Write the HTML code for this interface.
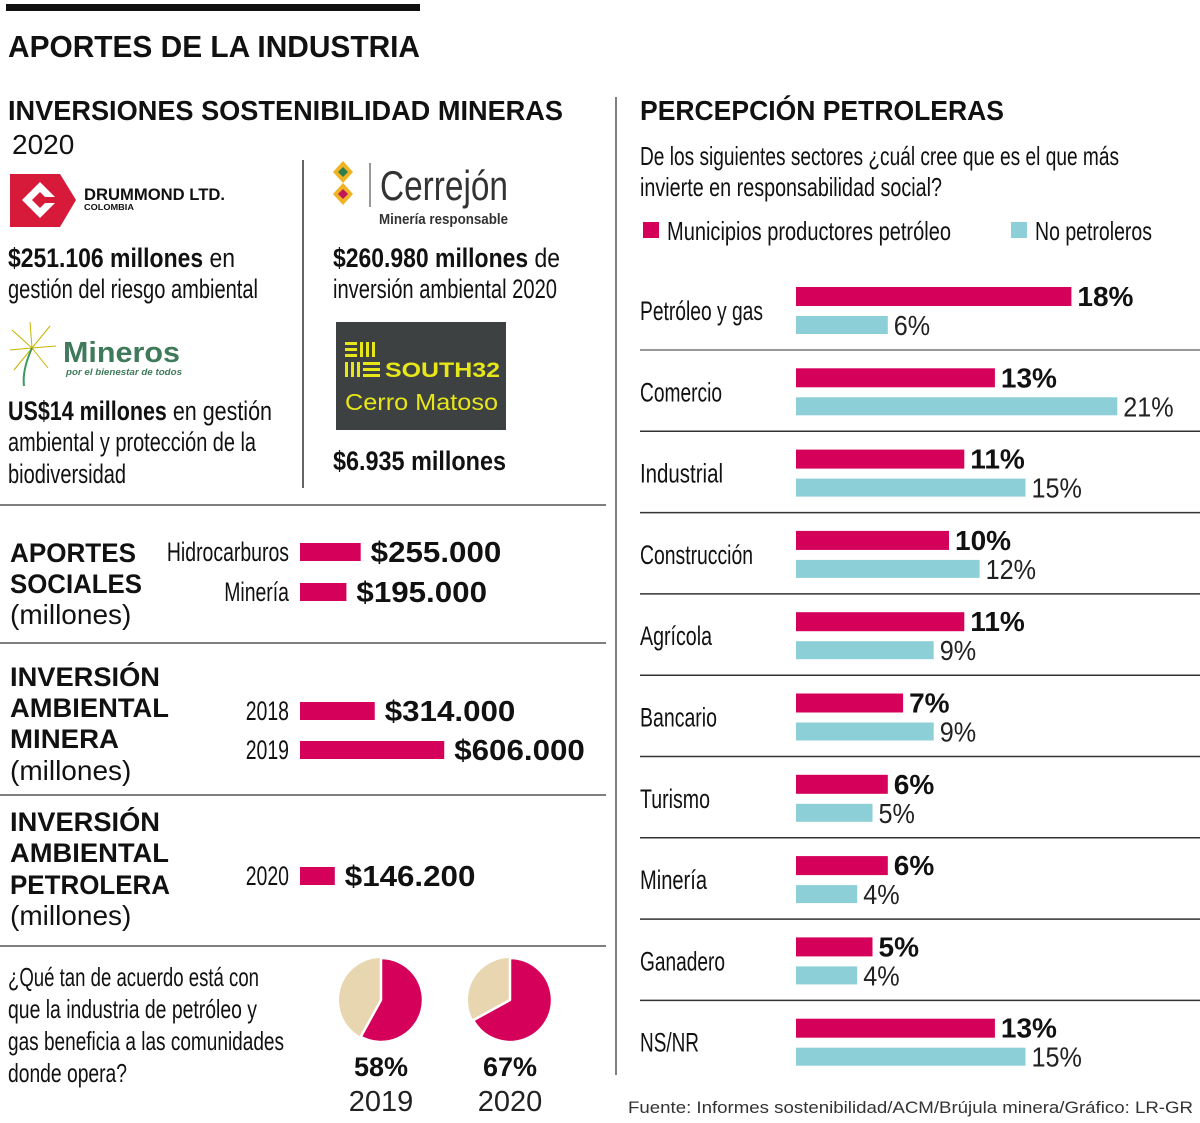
<!DOCTYPE html>
<html><head><meta charset="utf-8"><style>
html,body{margin:0;padding:0;background:#fff;}
svg{display:block;}
.c{font-family:"Liberation Sans Narrow","Liberation Sans",sans-serif;fill:#111;}
.b{font-family:"Liberation Sans",sans-serif;font-weight:bold;fill:#111;}
</style></head><body>
<svg id="pg" width="1200" height="1123" viewBox="0 0 1200 1123" xmlns="http://www.w3.org/2000/svg">
<rect x="6" y="4" width="414" height="7" fill="#111"/>
<text class="b" x="8" y="57" font-size="31" textLength="412" lengthAdjust="spacingAndGlyphs">APORTES DE LA INDUSTRIA</text>
<text class="b" x="8" y="120" font-size="28" textLength="555" lengthAdjust="spacingAndGlyphs">INVERSIONES SOSTENIBILIDAD MINERAS</text>
<text font-family="Liberation Sans,sans-serif" fill="#111" x="12" y="154" font-size="28">2020</text>
<line x1="303" y1="160" x2="303" y2="488" stroke="#333" stroke-width="1.5"/>
<line x1="616" y1="97" x2="616" y2="1075" stroke="#555" stroke-width="1.5"/>

<g>
<path d="M10 174 H60 L76 200 L60 227 H10 Z" fill="#d7193a"/>
<path d="M40 182 L58 200 L40 218 L22 200 Z" fill="#fff"/>
<path d="M40 192 L48 200 L40 208 L32 200 Z" fill="#d7193a"/>
<rect x="44" y="197" width="16" height="6" fill="#d7193a"/>
<text class="b" x="84" y="200" font-size="17" textLength="141" lengthAdjust="spacingAndGlyphs" fill="#3a3a3a">DRUMMOND LTD.</text>
<text class="b" x="84" y="210" font-size="8" fill="#3a3a3a" textLength="50" lengthAdjust="spacingAndGlyphs">COLOMBIA</text>
</g>
<text class="c" x="8" y="267" font-size="27" textLength="227" lengthAdjust="spacingAndGlyphs"><tspan font-weight="bold">$251.106 millones</tspan> en</text>
<text class="c" x="8" y="298" font-size="27" textLength="250" lengthAdjust="spacingAndGlyphs">gestión del riesgo ambiental</text>

<g>
<g stroke="#c8b400" stroke-width="1">
<line x1="32" y1="348" x2="12" y2="330"/><line x1="32" y1="348" x2="30" y2="322"/><line x1="32" y1="348" x2="50" y2="326"/><line x1="32" y1="348" x2="10" y2="350"/><line x1="32" y1="348" x2="56" y2="346"/><line x1="32" y1="348" x2="14" y2="370"/><line x1="32" y1="348" x2="48" y2="368"/>
</g>
<path d="M32 348 Q22 370 24 386" stroke="#3c9a5c" stroke-width="2" fill="none"/>
<text x="63" y="362" font-family="Liberation Sans,sans-serif" font-weight="bold" font-size="29" fill="#3f7a5a" textLength="117" lengthAdjust="spacingAndGlyphs">Mineros</text>
<text x="66" y="375" font-family="Liberation Sans,sans-serif" font-style="italic" font-weight="bold" font-size="9" fill="#3f7a5a" textLength="116" lengthAdjust="spacingAndGlyphs">por el bienestar de todos</text>
</g>
<text class="c" x="8" y="420" font-size="27" textLength="264" lengthAdjust="spacingAndGlyphs"><tspan font-weight="bold">US$14 millones</tspan> en gestión</text>
<text class="c" x="8" y="451" font-size="27" textLength="248" lengthAdjust="spacingAndGlyphs">ambiental y protección de la</text>
<text class="c" x="8" y="483" font-size="27" textLength="118" lengthAdjust="spacingAndGlyphs">biodiversidad</text>

<g>
<path d="M343 161 L353 172 L343 183 L333 172 Z" fill="#f0b323"/><path d="M343 167 L348 172 L343 177 L338 172 Z" fill="#2e7d4a"/>
<path d="M343 183 L353 194 L343 205 L333 194 Z" fill="#f0b323"/><path d="M343 189 L348 194 L343 199 L338 194 Z" fill="#c2185b"/>
<line x1="370" y1="163" x2="370" y2="207" stroke="#333"/>
<text x="380" y="200" font-family="Liberation Sans,sans-serif" font-size="42" fill="#333" textLength="128" lengthAdjust="spacingAndGlyphs">Cerrejón</text>
<text x="379" y="224" font-family="Liberation Sans,sans-serif" font-weight="bold" font-size="15" fill="#333" textLength="129" lengthAdjust="spacingAndGlyphs">Minería responsable</text>
</g>
<text class="c" x="333" y="267" font-size="27" textLength="227" lengthAdjust="spacingAndGlyphs"><tspan font-weight="bold">$260.980 millones</tspan> de</text>
<text class="c" x="333" y="298" font-size="27" textLength="224" lengthAdjust="spacingAndGlyphs">inversión ambiental 2020</text>
<g>
<rect x="336" y="322" width="170" height="108" fill="#3d4142"/>
<g fill="#e6e619"><rect x="345" y="342" width="12" height="3"/><rect x="345" y="348" width="12" height="3"/><rect x="345" y="354" width="12" height="3"/><rect x="360" y="342" width="3" height="15"/><rect x="366" y="342" width="3" height="15"/><rect x="372" y="342" width="3" height="15"/><rect x="345" y="362" width="3" height="15"/><rect x="351" y="362" width="3" height="15"/><rect x="357" y="362" width="3" height="15"/><rect x="363" y="362" width="17" height="3"/><rect x="363" y="368" width="17" height="3"/><rect x="363" y="374" width="17" height="3"/></g>
<text x="385" y="377" font-family="Liberation Sans,sans-serif" font-weight="bold" font-size="21" fill="#e6e619" textLength="115" lengthAdjust="spacingAndGlyphs">SOUTH32</text>
<text x="345" y="410" font-family="Liberation Sans,sans-serif" font-size="23" fill="#e6e619" textLength="153" lengthAdjust="spacingAndGlyphs">Cerro Matoso</text>
</g>
<text class="c" x="333" y="470" font-size="27" font-weight="bold" textLength="173" lengthAdjust="spacingAndGlyphs">$6.935 millones</text>

<g stroke="#555" stroke-width="1.5">
<line x1="0" y1="505" x2="606" y2="505"/><line x1="0" y1="643" x2="606" y2="643"/><line x1="0" y1="795" x2="606" y2="795"/><line x1="0" y1="946" x2="606" y2="946"/>
</g>

<text class="b" font-size="27"><tspan x="10" y="562" textLength="126" lengthAdjust="spacingAndGlyphs">APORTES</tspan><tspan x="10" y="593" textLength="132" lengthAdjust="spacingAndGlyphs">SOCIALES</tspan></text>
<text font-family="Liberation Sans,sans-serif" fill="#111" x="10" y="624" font-size="28">(millones)</text>
<text class="b" font-size="27"><tspan x="10" y="686" textLength="150" lengthAdjust="spacingAndGlyphs">INVERSIÓN</tspan><tspan x="10" y="717" textLength="159" lengthAdjust="spacingAndGlyphs">AMBIENTAL</tspan><tspan x="10" y="748" textLength="109" lengthAdjust="spacingAndGlyphs">MINERA</tspan></text>
<text font-family="Liberation Sans,sans-serif" fill="#111" x="10" y="780" font-size="28">(millones)</text>
<text class="b" font-size="27"><tspan x="10" y="831" textLength="150" lengthAdjust="spacingAndGlyphs">INVERSIÓN</tspan><tspan x="10" y="862" textLength="159" lengthAdjust="spacingAndGlyphs">AMBIENTAL</tspan><tspan x="10" y="894" textLength="160" lengthAdjust="spacingAndGlyphs">PETROLERA</tspan></text>
<text font-family="Liberation Sans,sans-serif" fill="#111" x="10" y="925" font-size="28">(millones)</text>
<g id="leftbars"></g>

<text class="c" font-size="26">
<tspan x="8" y="986" textLength="251" lengthAdjust="spacingAndGlyphs">¿Qué tan de acuerdo está con</tspan>
<tspan x="8" y="1018" textLength="249" lengthAdjust="spacingAndGlyphs">que la industria de petróleo y</tspan>
<tspan x="8" y="1050" textLength="276" lengthAdjust="spacingAndGlyphs">gas beneficia a las comunidades</tspan>
<tspan x="8" y="1082" textLength="119" lengthAdjust="spacingAndGlyphs">donde opera?</tspan></text>
<g id="pies"></g>

<text class="b" x="640" y="120" font-size="28" textLength="364" lengthAdjust="spacingAndGlyphs">PERCEPCIÓN  PETROLERAS</text>
<text class="c" font-size="26">
<tspan x="640" y="165" textLength="479" lengthAdjust="spacingAndGlyphs">De los siguientes sectores ¿cuál cree que es el que más</tspan>
<tspan x="640" y="196" textLength="302" lengthAdjust="spacingAndGlyphs">invierte en responsabilidad social?</tspan></text>
<g><rect x="643" y="222" width="16" height="16" fill="#d4005a"/><text class="c" x="667" y="240" font-size="26" textLength="284" lengthAdjust="spacingAndGlyphs">Municipios productores petróleo</text></g>
<g><rect x="1011" y="222" width="16" height="16" fill="#8ccfd6"/><text class="c" x="1035" y="240" font-size="26" textLength="117" lengthAdjust="spacingAndGlyphs">No petroleros</text></g>
<g id="rightchart"></g>
<text font-family="Liberation Sans,sans-serif" font-size="17" fill="#333" x="1193" y="1113" text-anchor="end" textLength="565" lengthAdjust="spacingAndGlyphs">Fuente: Informes sostenibilidad/ACM/Brújula minera/Gráfico: LR-GR</text>
</svg>
<script>
const NS="http://www.w3.org/2000/svg";
const MAG="#d4005a", TEAL="#8ccfd6", BEIGE="#e8d6b0";
// Right chart data
const sectors=["Petróleo y gas","Comercio","Industrial","Construcción","Agrícola","Bancario","Turismo","Minería","Ganadero","NS/NR"];
const municipiosPct=[18,13,11,10,11,7,6,6,5,13];
const noPetrolerosPct=[6,21,15,12,9,9,5,4,4,15];
const sectorLabelWidths=[123,82,83,113,72,77,70,67,85,59];
// Left bars data
const socialCats=["Hidrocarburos","Minería"];
const socialVals=[255000,195000];
const mineraYears=["2018","2019"];
const mineraVals=[314000,606000];
const petroleraYears=["2020"];
const petroleraVals=[146200];
// Pie data
const pieYears=["2019","2020"];
const pieVals=[58,67];

function el(tag,attrs,parent){const e=document.createElementNS(NS,tag);for(const k in attrs)e.setAttribute(k,attrs[k]);parent.appendChild(e);return e;}
function fmt(v){return "$"+v.toLocaleString("de-DE");}
function squeeze(t,f){const w=t.getComputedTextLength();t.setAttribute("textLength",(w*f).toFixed(1));t.setAttribute("lengthAdjust","spacingAndGlyphs");}

// right chart
const rc=document.getElementById("rightchart");
const x0=796, pxPct=15.3, rowTop=287, pitch=81.3;
const xr=v=>v*pxPct;
sectors.forEach((s,i)=>{
  const y=rowTop+i*pitch;
  const t=el("text",{class:"c",x:640,y:y+33,"font-size":27,textLength:sectorLabelWidths[i],lengthAdjust:"spacingAndGlyphs"},rc);
  
  
  t.textContent=s;
  const b1=el("rect",{x:x0,y:y,width:xr(municipiosPct[i]),height:19,fill:MAG},rc);
  
  
  const l1=el("text",{class:"b",x:x0+xr(municipiosPct[i])+6,y:y+19,"font-size":28},rc);
  
  
  l1.textContent=municipiosPct[i]+"%";
  const b2=el("rect",{x:x0,y:y+29,width:xr(noPetrolerosPct[i]),height:18,fill:TEAL},rc);
  
  
  const l2=el("text",{x:x0+xr(noPetrolerosPct[i])+6,y:y+48,"font-size":28,fill:"#222","font-family":"Liberation Sans,sans-serif"},rc);
  
  
  l2.textContent=noPetrolerosPct[i]+"%";
  squeeze(l2,0.9);
  if(i<sectors.length-1){
    const ln=el("line",{x1:640,x2:1200,y1:y+63,y2:y+63,stroke:i===0?"#777":"#333","stroke-width":1.5},rc);
    
    
  }
});

// left bars
const lb=document.getElementById("leftbars");
const bx0=300, pxK=0.238/1000;
const xl=v=>v*pxK;
function group(cats,vals,baselines){
  cats.forEach((c,i)=>{
    const by=baselines[i];
    const t=el("text",{class:"c",x:289,y:by,"text-anchor":"end","font-size":27},lb);
    
    
    t.textContent=c;
    squeeze(t,0.72);
    const r=el("rect",{x:bx0,y:by-18,width:xl(vals[i]),height:18,fill:MAG},lb);
    
    
    const v=el("text",{class:"b",x:bx0+xl(vals[i])+10,y:by+1,"font-size":29},lb);
    
    
    v.textContent=fmt(vals[i]);
    squeeze(v,1.08);
  });
}
group(socialCats,socialVals,[561,601]);
group(mineraYears,mineraVals,[720,759]);
group(petroleraYears,petroleraVals,[885]);

// pies
const pg=document.getElementById("pies");
const centers=[381,510], cy=1000, R=42;
pieVals.forEach((p,i)=>{
  const cx=centers[i];
  const c=el("circle",{cx:cx,cy:cy,r:R,fill:BEIGE},pg);
  
  
  const a=p/100*2*Math.PI;
  const ex=cx+R*Math.sin(a), ey=cy-R*Math.cos(a);
  const d=`M${cx} ${cy} L${cx} ${cy-R} A${R} ${R} 0 ${p>50?1:0} 1 ${ex} ${ey} Z`;
  const s=el("path",{d:d,fill:MAG,stroke:"#fff","stroke-width":2.5,"stroke-linejoin":"round"},pg);
  
  
  const t=el("text",{class:"b",x:cx,y:1076,"text-anchor":"middle","font-size":27},pg);
  
  
  t.textContent=p+"%";
  const y=el("text",{x:cx,y:1111,"text-anchor":"middle","font-size":29,fill:"#222","font-family":"Liberation Sans,sans-serif"},pg);
  
  
  y.textContent=pieYears[i];
});
</script>
</body></html>
